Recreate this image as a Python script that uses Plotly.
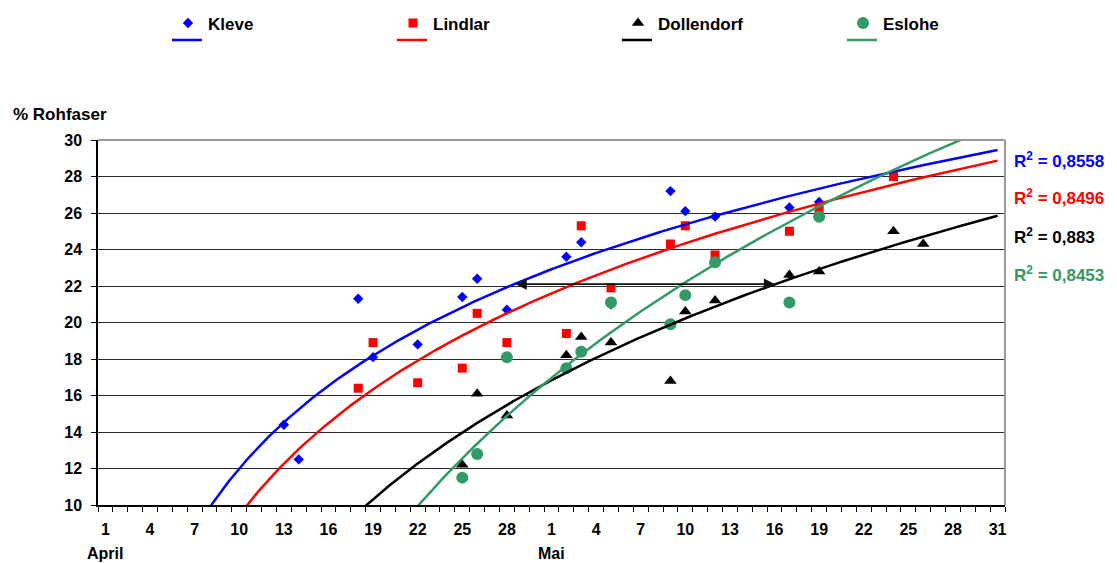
import numpy as np
import pandas as pd
import plotly.graph_objects as go

# ---------------- data ----------------
series_names = ["Kleve", "Lindlar", "Dollendorf", "Eslohe"]

kleve_dates = ["04-13", "04-14", "04-18", "04-19", "04-22", "04-25", "04-26", "04-28",
               "05-02", "05-03", "05-05", "05-09", "05-10", "05-12", "05-17", "05-19"]
kleve_vals = [14.4, 12.5, 21.3, 18.1, 18.8, 21.4, 22.4, 20.7,
              23.6, 24.4, 21.0, 27.2, 26.1, 25.8, 26.3, 26.6]

lindlar_dates = ["04-18", "04-19", "04-22", "04-25", "04-26", "04-28", "05-02", "05-03",
                 "05-05", "05-09", "05-10", "05-12", "05-17", "05-19", "05-24"]
lindlar_vals = [16.4, 18.9, 16.7, 17.5, 20.5, 18.9, 19.4, 25.3,
                21.9, 24.3, 25.3, 23.7, 25.0, 26.2, 28.0]

dollendorf_dates = ["04-25", "04-26", "04-28", "05-02", "05-03", "05-05", "05-09",
                    "05-10", "05-12", "05-17", "05-19", "05-24", "05-26"]
dollendorf_vals = [12.2, 16.1, 14.9, 18.2, 19.2, 18.9, 16.8,
                   20.6, 21.2, 22.6, 22.8, 25.0, 24.3]

eslohe_dates = ["04-25", "04-26", "04-28", "05-02", "05-03", "05-05", "05-09",
                "05-10", "05-12", "05-17", "05-19"]
eslohe_vals = [11.5, 12.8, 18.1, 17.5, 18.4, 21.1, 19.9, 21.5, 23.3, 21.1, 25.8]

# logarithmic trendlines y = a*ln(day) + b (day 1 = 1 April)
trend_a = [9.65, 10.74, 13.31, 20.52]
trend_b = [-10.22, -15.28, -28.87, -53.49]
r2_labels = ["0,8558", "0,8496", "0,883", "0,8453"]

x_tick_days = [1, 4, 7, 10, 13, 16, 19, 22, 25, 28, 31, 34, 37, 40, 43, 46, 49, 52, 55, 58, 61]
x_tick_text = ["1", "4", "7", "10", "13", "16", "19", "22", "25", "28",
               "1", "4", "7", "10", "13", "16", "19", "22", "25", "28", "31"]
month_labels = ["April", "Mai"]
month_days = [1, 31]

arrow_level = 22.1  # % Rohfaser level of the horizontal arrow

# ---------------- styling ----------------
colors = ["#0000FF", "#FF0000", "#000000", "#339966"]
symbols = ["diamond", "square", "triangle-up", "circle"]
msizes = [8, 9, 11, 12]
FONT = "Liberation Sans"

W, H = 1117, 563
L, R, T, B = 98, 112, 140, 58
PW, PH = W - L - R, H - T - B


def px_x(p):
    return (p - L) / PW


def px_y(p):
    return (H - B - p) / PH


def cx(p):
    return p / W


def cy(p):
    return 1 - p / H


def day_index(md):
    return (pd.Timestamp(f"2000-{md}") - pd.Timestamp("2000-03-31")).days


all_dates = [kleve_dates, lindlar_dates, dollendorf_dates, eslohe_dates]
all_vals = [kleve_vals, lindlar_vals, dollendorf_vals, eslohe_vals]

fig = go.Figure()

for name, dates, vals, c, s, ms in zip(series_names, all_dates, all_vals, colors, symbols, msizes):
    x = np.array([day_index(d) for d in dates], dtype=float)
    fig.add_trace(go.Scatter(
        x=x, y=vals, mode="markers", name=name,
        marker=dict(symbol=s, size=ms, color=c, line=dict(width=0)),
        legend="legend",
    ))

xs = np.linspace(1, 61, 800)
for a, b, c in zip(trend_a, trend_b, colors):
    fig.add_trace(go.Scatter(
        x=xs, y=a * np.log(xs) + b, mode="lines", name=" ",
        line=dict(color=c, width=2.5), legend="legend2", hoverinfo="skip",
    ))

# arrow between Kleve and Dollendorf trendlines at the same fibre level
x_from = np.exp((arrow_level - trend_b[0]) / trend_a[0])
x_to = np.exp((arrow_level - trend_b[2]) / trend_a[2])
fig.add_annotation(
    x=x_to, y=arrow_level, ax=x_from, ay=arrow_level, axref="x", ayref="y",
    xref="x", yref="y", text="", showarrow=True, arrowside="end+start",
    arrowhead=2, startarrowhead=2, arrowsize=1.4, startarrowsize=1.4,
    arrowwidth=1.6, arrowcolor="#111111",
)

# R² labels
r2_y_px = [160, 197, 236, 274]
for lab, c, yp in zip(r2_labels, colors, r2_y_px):
    fig.add_annotation(
        x=px_x(1012), y=px_y(yp), xref="paper", yref="paper",
        text=f"R<sup>2</sup> = {lab}", showarrow=False, xanchor="left", yanchor="middle",
        font=dict(family=FONT, size=17, color=c, weight="bold"),
    )

# axis title
fig.add_annotation(
    x=px_x(11), y=px_y(115), xref="paper", yref="paper", text="% Rohfaser",
    showarrow=False, xanchor="left", yanchor="middle",
    font=dict(family=FONT, size=17, color="black", weight="bold"),
)

# month labels
for m, d in zip(month_labels, month_days):
    fig.add_annotation(
        x=d, y=px_y(553), xref="x", yref="paper", text=m, showarrow=False,
        xanchor="center", yanchor="middle",
        font=dict(family=FONT, size=16, color="black", weight="bold"),
    )

# grey plot-area border (top + right)
fig.add_shape(type="line", xref="paper", yref="paper", x0=0, x1=1, y0=1, y1=1,
              line=dict(color="#9a9a9a", width=2))
fig.add_shape(type="line", xref="paper", yref="paper", x0=1, x1=1, y0=0, y1=1,
              line=dict(color="#9a9a9a", width=2))

fig.update_layout(
    width=W, height=H, autosize=False,
    margin=dict(l=L, r=R, t=T, b=B, pad=0, autoexpand=False),
    paper_bgcolor="white", plot_bgcolor="white",
    font=dict(family=FONT, size=16, color="black"),
    showlegend=True,
    legend=dict(
        orientation="h", xref="container", yref="container",
        x=cx(168), xanchor="left", y=cy(5.5), yanchor="top",
        entrywidth=180, entrywidthmode="pixels", bgcolor="rgba(0,0,0,0)",
        font=dict(family=FONT, size=17, color="black", weight="bold"),
        borderwidth=0, itemclick=False,
    ),
    legend2=dict(
        orientation="h", xref="container", yref="container",
        x=cx(167), xanchor="left", y=cy(22.5), yanchor="top",
        entrywidth=180, entrywidthmode="pixels", bgcolor="rgba(0,0,0,0)",
        font=dict(family=FONT, size=17, color="black"),
        borderwidth=0, itemclick=False,
    ),
    xaxis=dict(
        range=[0.5, 61.5], tickmode="array", tickvals=x_tick_days, ticktext=x_tick_text,
        ticks="", showgrid=False, zeroline=False,
        showline=True, linecolor="black", linewidth=1.5,
        tickfont=dict(family=FONT, size=16, color="black", weight="bold"),
        ticklabelstandoff=9,
        minor=dict(tick0=0.5, dtick=1, ticks="outside", ticklen=5, tickcolor="black",
                   tickwidth=1, showgrid=False),
    ),
    yaxis=dict(
        range=[10, 30], tickmode="linear", tick0=10, dtick=2,
        ticks="outside", ticklen=5, tickcolor="black", tickwidth=1,
        showgrid=True, gridcolor="#2a2a2a", gridwidth=1.3, zeroline=False,
        showline=True, linecolor="black", linewidth=1.5,
        tickfont=dict(family=FONT, size=16, color="black", weight="bold"),
        ticklabelstandoff=6,
    ),
)

fig.write_html("out.html")
